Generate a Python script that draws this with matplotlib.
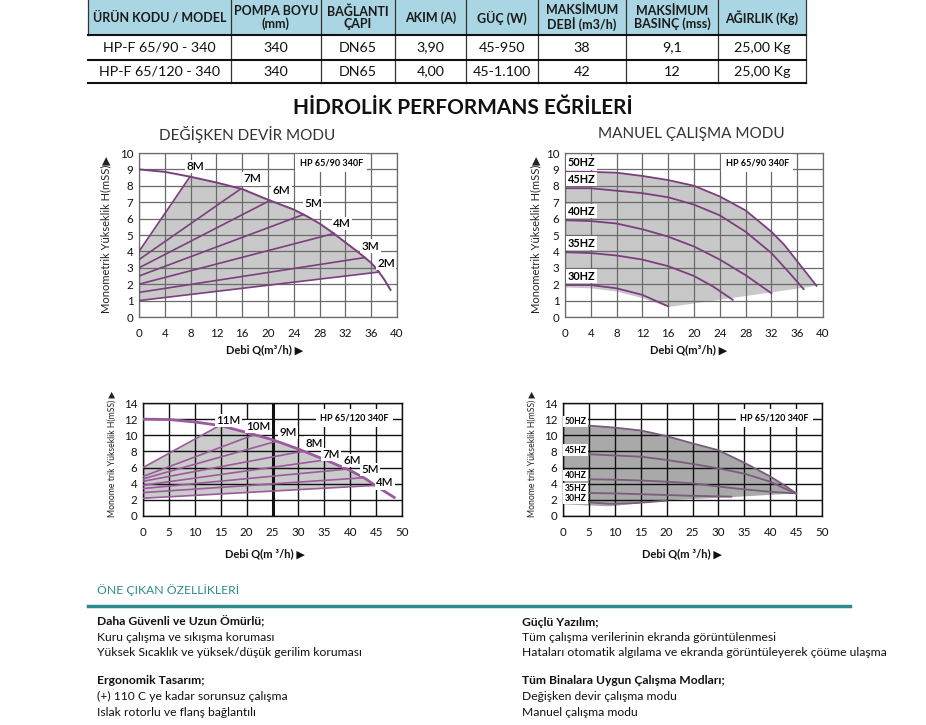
import numpy as np
import matplotlib
matplotlib.use('Agg')
import matplotlib.pyplot as plt
from matplotlib.patches import Rectangle

plt.rcParams['font.family'] = ['Lato', 'DejaVu Sans']

W, H = 926, 725

# ---- spec table ----
table_header = ['ÜRÜN KODU / MODEL', 'POMPA BOYU\n(mm)', 'BAĞLANTI\nÇAPI', 'AKIM (A)', 'GÜÇ (W)',
                'MAKSİMUM\nDEBİ (m3/h)', 'MAKSİMUM\nBASINÇ (mss)', 'AĞIRLIK (Kg)']
table_rows = [
    ['HP-F 65/90 - 340', '340', 'DN65', '3,90', '45-950', '38', '9,1', '25,00 Kg'],
    ['HP-F 65/120 - 340', '340', 'DN65', '4,00', '45-1.100', '42', '12', '25,00 Kg'],
]

# ---- chart 1: HP 65/90, variable speed ----
c1_curve_x = [0, 4, 8, 12, 16, 20, 24, 26, 28, 30, 32, 34, 36, 37, 38, 39]
c1_curve_y = [9.0, 8.85, 8.55, 8.2, 7.8, 7.15, 6.55, 6.15, 5.7, 5.15, 4.55, 3.95, 3.3, 2.85, 2.3, 1.65]
c1_speeds = ['8M', '7M', '6M', '5M', '4M', '3M', '2M']
c1_speed_start = [4.0, 3.5, 3.0, 2.5, 2.0, 1.5, 1.0]
c1_speed_end_x = [7.9, 15.8, 20.3, 25.5, 30.2, 35.0, 37.2]

# ---- chart 2: HP 65/90, manual mode ----
c2_freqs = ['50HZ', '45HZ', '40HZ', '35HZ', '30HZ']
c2_x = [
    [0, 4, 8, 12, 16, 20, 24, 28, 32, 34, 36, 38, 39],
    [0, 4, 8, 12, 16, 20, 24, 28, 32, 35, 37],
    [0, 4, 8, 12, 16, 20, 24, 28, 32],
    [0, 4, 8, 12, 16, 20, 23, 26],
    [0, 4, 8, 12, 16],
]
c2_y = [
    [8.85, 8.85, 8.8, 8.6, 8.35, 8.0, 7.35, 6.5, 5.2, 4.4, 3.4, 2.4, 1.9],
    [7.85, 7.85, 7.7, 7.55, 7.3, 6.85, 6.2, 5.2, 3.9, 2.6, 1.7],
    [5.9, 5.85, 5.7, 5.35, 4.9, 4.3, 3.5, 2.55, 1.45],
    [3.95, 3.9, 3.75, 3.5, 3.1, 2.5, 1.85, 1.05],
    [1.95, 1.95, 1.75, 1.35, 0.65],
]
c2_floor_x = [0, 4, 8, 12, 16, 39]
c2_floor_y = [1.8, 1.75, 1.55, 1.15, 0.6, 1.9]

# ---- chart 3: HP 65/120, variable speed ----
c3_curve_x = [0, 5, 10, 15, 20, 25, 30, 35, 40, 43, 45, 48.5]
c3_curve_y = [12.0, 11.95, 11.65, 11.2, 10.35, 9.45, 8.3, 7.0, 5.65, 4.6, 3.7, 2.3]
c3_speeds = ['11M', '10M', '9M', '8M', '7M', '6M', '5M', '4M']
c3_speed_start = [6.0, 4.9, 4.6, 4.3, 3.8, 3.4, 2.9, 2.2]
c3_speed_end_x = [14.8, 21.5, 25.8, 31.0, 35.2, 39.4, 42.6, 44.8]

# ---- chart 4: HP 65/120, manual mode ----
c4_freqs = ['50HZ', '45HZ', '40HZ', '35HZ', '30HZ']
c4_x = [
    [0, 5, 10, 15, 20, 25, 30, 35, 40, 43, 45],
    [0, 5, 10, 15, 20, 25, 30, 35, 40, 43, 45],
    [0, 5, 10, 15, 20, 25, 30, 35, 40, 45],
    [0, 5, 10, 15, 20, 25, 32.5],
    [0, 5, 9, 14, 20],
]
c4_y = [
    [11.25, 11.2, 10.95, 10.6, 9.9, 9.0, 8.15, 6.6, 4.9, 3.7, 2.8],
    [7.7, 7.65, 7.5, 7.35, 6.95, 6.45, 5.9, 5.25, 4.25, 3.35, 2.8],
    [4.55, 4.55, 4.5, 4.4, 4.25, 4.05, 3.65, 3.3, 3.0, 2.8],
    [2.9, 2.85, 2.8, 2.7, 2.6, 2.5, 2.4],
    [1.75, 1.7, 1.5, 1.6, 1.9],
]
c4_floor_x = [0, 5, 9, 13, 20, 30, 45]
c4_floor_y = [1.45, 1.3, 1.2, 1.45, 1.95, 2.25, 2.8]

# ---- features text ----
feat_title = 'ÖNE ÇIKAN ÖZELLİKLERİ'
feat_left = [('Daha Güvenli ve Uzun Ömürlü;', ['Kuru çalışma ve sıkışma koruması',
                                             'Yüksek Sıcaklık ve yüksek/düşük gerilim koruması']),
             ('Ergonomik Tasarım;', ['(+) 110 C ye kadar sorunsuz çalışma',
                                     'Islak rotorlu ve flanş bağlantılı'])]
feat_right = [('Güçlü Yazılım;', ['Tüm çalışma verilerinin ekranda görüntülenmesi',
                                  'Hataları otomatik algılama ve ekranda görüntüleyerek çöüme ulaşma']),
              ('Tüm Binalara Uygun Çalışma Modları;', ['Değişken devir çalışma modu',
                                                       'Manuel çalışma modu'])]

PURPLE = '#7b3f7d'
TEAL = '#2e8a8c'

# label offsets from the end of each speed line (layout only)
c1_label_off = [(0.8, 0.6), (1.7, 0.6), (1.8, 0.6), (1.5, 0.7), (1.3, 0.6), (0.9, 0.7), (1.1, 0.55)]
c3_label_off = [(1.7, 0.65), (0.8, 1.0), (2.2, 1.1), (2.0, 1.0), (1.1, 0.7), (0.9, 1.1), (1.3, 1.0), (1.9, 0.3)]


def px_axes(fig, left, top, right, bottom):
    return fig.add_axes([left / W, 1 - bottom / H, (right - left) / W, (bottom - top) / H])


def style_axes(ax, xmax, xstep, ymax, ystep, grid_color, grid_lw, xpad):
    ax.set_xlim(0, xmax)
    ax.set_ylim(0, ymax)
    ax.set_xticks(np.arange(0, xmax + 1, xstep))
    ax.set_yticks(np.arange(0, ymax + 1, ystep))
    ax.grid(True, color=grid_color, lw=grid_lw)
    for s in ax.spines.values():
        s.set_color(grid_color)
        s.set_linewidth(grid_lw)
    ax.tick_params(length=0, labelsize=8.3, colors='#111111')
    ax.tick_params(axis='x', pad=xpad)
    ax.tick_params(axis='y', pad=4)


def axis_labels(ax, ylabel, ysize, ylx, yly, xlabel, xlx, xly):
    ax.text(ylx, yly, ylabel, transform=ax.transAxes, rotation=90, ha='center', va='center',
            fontsize=ysize, color='#222222')
    ax.text(xlx, xly, xlabel, transform=ax.transAxes, ha='center', va='center',
            fontsize=8, fontweight='bold', color='#111111')


def model_tag(ax, x, y, text):
    ax.text(x, y, text, ha='center', va='center', fontsize=6.5, fontweight='bold', zorder=5,
            bbox=dict(boxstyle='square,pad=0.5', facecolor='white', edgecolor='none'))


def speed_chart(ax, curve_x, curve_y, names, starts, ends_x, offsets, fill_color, line_color,
                curve_lw, fsize):
    end_y = np.interp(ends_x, curve_x, curve_y)
    inner = [(x, y) for x, y in zip(curve_x, curve_y) if ends_x[0] < x < ends_x[-1]]
    px = [0, ends_x[0]] + [p[0] for p in inner] + [ends_x[-1], 0]
    py = [starts[0], end_y[0]] + [p[1] for p in inner] + [end_y[-1], starts[-1]]
    ax.fill(px, py, color=fill_color, lw=0, zorder=1)
    ax.plot(curve_x, curve_y, color=line_color, lw=curve_lw, zorder=3)
    for name, s, ex, ey, (dx, dy) in zip(names, starts, ends_x, end_y, offsets):
        ax.plot([0, ex], [s, ey], color=line_color, lw=1.2, zorder=3)
        ax.text(ex + dx, ey + dy, name, ha='center', va='center', fontsize=fsize, zorder=5,
                fontweight='semibold',
                bbox=dict(boxstyle='square,pad=0.1', facecolor='white', edgecolor='none'))


def freq_chart(ax, xs, ys, names, floor_x, floor_y, fill_color, line_color, lx, dy, fsize):
    px = list(xs[0]) + list(floor_x[::-1])
    py = list(ys[0]) + list(floor_y[::-1])
    ax.fill(px, py, color=fill_color, lw=0, zorder=1)
    for name, x, y in zip(names, xs, ys):
        ax.plot(x, y, color=line_color, lw=1.3, zorder=3)
        ax.text(lx, y[0] + dy, name, ha='left', va='center', fontsize=fsize, fontweight='bold',
                zorder=5, bbox=dict(boxstyle='square,pad=0.15', facecolor='white', edgecolor='none'))


fig = plt.figure(figsize=(W / 100, H / 100), dpi=100)
bg = fig.add_axes([0, 0, 1, 1])
bg.set_xlim(0, W)
bg.set_ylim(H, 0)
bg.axis('off')

# table
col_edges = [88, 231, 321, 395, 466, 538, 626, 718, 806]
row_edges = [0, 35, 60, 83]
bg.add_patch(Rectangle((col_edges[0], 0), col_edges[-1] - col_edges[0], row_edges[1],
                       facecolor='#a9d6e2', edgecolor='none'))
for i, x in enumerate(col_edges):
    bottom = row_edges[1] if i == 0 else row_edges[-1]
    bg.plot([x, x], [0, bottom], color='#333333', lw=0.9)
for y in row_edges[1:]:
    bg.plot([col_edges[0], col_edges[-1]], [y, y], color='#111111', lw=1.5)
for j, label in enumerate(table_header):
    cx = (col_edges[j] + col_edges[j + 1]) / 2
    bg.text(cx, (row_edges[0] + row_edges[1]) / 2, label, ha='center', va='center',
            fontsize=9, fontweight='bold', color='#1a1a1a', linespacing=1.0)
for r, row in enumerate(table_rows):
    cy = (row_edges[r + 1] + row_edges[r + 2]) / 2
    for j, val in enumerate(row):
        cx = (col_edges[j] + col_edges[j + 1]) / 2
        bg.text(cx, cy, val, ha='center', va='center', fontsize=10.3, color='#111111')

bg.text(463, 108, 'HİDROLİK PERFORMANS EĞRİLERİ', ha='center', va='center',
        fontsize=15, fontweight='bold', color='#111111')
bg.text(247, 134, 'DEĞİŞKEN DEVİR MODU', ha='center', va='center', fontsize=11, color='#333333')
bg.text(691, 134, 'MANUEL ÇALIŞMA MODU', ha='center', va='center', fontsize=11, color='#333333')

# features
bg.text(97, 590, feat_title, ha='left', va='center', fontsize=8.8, color=TEAL)
bg.plot([88, 850], [606, 606], color=TEAL, lw=2.5)
for col_x, blocks in [(97, feat_left), (522, feat_right)]:
    for b, (head, lines) in enumerate(blocks):
        y0 = 622 + b * 59
        bg.text(col_x, y0, head, ha='left', va='center', fontsize=8.7, fontweight='bold', color='#111111')
        for k, line in enumerate(lines):
            bg.text(col_x, y0 + 15.5 * (k + 1), line, ha='left', va='center', fontsize=8.7, color='#111111')

# chart 1
ax1 = px_axes(fig, 139, 153, 397, 317)
style_axes(ax1, 40, 4, 10, 1, '#6a6a6a', 0.9, 8)
speed_chart(ax1, c1_curve_x, c1_curve_y, c1_speeds, c1_speed_start, c1_speed_end_x, c1_label_off,
            '#c9c9c9', PURPLE, 1.4, 8.5)
model_tag(ax1, 29.8, 9.4, 'HP 65/90 340F')
axis_labels(ax1, 'Monometrik Yükseklik H(mSS)▶', 8, -0.13, 0.5, 'Debi Q(m³/h) ▶', 0.488, -0.2)

# chart 2
ax2 = px_axes(fig, 565, 153, 823, 317)
style_axes(ax2, 40, 4, 10, 1, '#6a6a6a', 0.9, 8)
freq_chart(ax2, c2_x, c2_y, c2_freqs, c2_floor_x, c2_floor_y, '#c8c8c8', PURPLE, 0.4, 0.55, 7.8)
model_tag(ax2, 29.8, 9.4, 'HP 65/90 340F')
axis_labels(ax2, 'Monometrik Yükseklik H(mSS)▶', 8, -0.115, 0.5, 'Debi Q(m³/h) ▶', 0.477, -0.2)

# chart 3
ax3 = px_axes(fig, 143, 403, 402, 516)
style_axes(ax3, 50, 5, 14, 2, '#111111', 1.0, 8)
ax3.axvline(25, color='#111111', lw=2.2, zorder=2.6)
speed_chart(ax3, c3_curve_x, c3_curve_y, c3_speeds, c3_speed_start, c3_speed_end_x, c3_label_off,
            '#cbcbcb', '#9a5a9c', 2.0, 8.3)
model_tag(ax3, 40.8, 12.1, 'HP 65/120 340F')
axis_labels(ax3, 'Monome trik Yükseklik H(mSS) ▶', 6.2, -0.12, 0.55, 'Debi Q(m ³/h) ▶', 0.47, -0.33)

# chart 4
ax4 = px_axes(fig, 563, 403, 822, 516)
style_axes(ax4, 50, 5, 14, 2, '#111111', 1.0, 8)
freq_chart(ax4, c4_x, c4_y, c4_freqs, c4_floor_x, c4_floor_y, '#a9a9a9', '#7a5c7c', 0.3, 0.45, 6.2)
model_tag(ax4, 40.8, 12.1, 'HP 65/120 340F')
axis_labels(ax4, 'Monome trik Yükseklik H(mSS) ▶', 6.2, -0.12, 0.55, 'Debi Q(m ³/h) ▶', 0.46, -0.33)

fig.savefig('out.png', dpi=100)
